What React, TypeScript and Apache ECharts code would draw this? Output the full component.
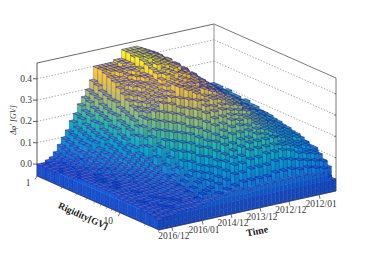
import React, { useEffect, useRef } from "react";
import * as echarts from "echarts";

// Time bins run from the front corner (2016/12) to the far corner (2012/01).
// Each row holds delta-phi in units of 0.01 GV, for rigidity bins from 1 GV upwards.
const deltaPhiHundredths: number[][] = [
  [0,0,0,0,0,1,1,1,1,2,2,2,2,2,2,2,2,2,1,1,1,1,1,0,0,0,-1],
  [0,1,0,0,1,1,1,1,2,2,2,2,3,2,2,3,2,2,2,2,1,2,1,1,1,0,0],
  [1,1,1,1,1,1,1,2,2,2,2,3,2,3,3,2,3,2,2,2,2,1,2,1,1,1,0],
  [2,2,1,2,1,2,2,2,2,2,3,2,3,3,2,3,3,2,3,2,2,2,2,1,2,1,0],
  [4,3,3,3,3,3,2,3,3,2,3,3,3,2,3,3,3,3,2,3,2,3,2,2,1,2,1],
  [7,6,5,5,4,5,4,4,3,4,3,3,4,3,3,3,3,3,3,3,3,2,3,2,2,1,1],
  [10,9,8,7,7,6,6,5,5,4,5,4,4,4,4,3,4,3,3,3,3,3,2,3,2,2,1],
  [13,12,11,10,10,8,8,7,7,6,6,5,5,4,5,4,4,4,3,4,3,3,3,2,3,2,1],
  [17,15,14,13,12,12,10,9,9,8,7,7,6,6,5,5,5,4,4,4,4,3,3,3,2,2,1],
  [20,19,17,16,15,14,14,12,11,10,9,9,8,7,6,6,5,5,4,5,4,4,3,3,3,2,1],
  [24,22,21,19,19,17,16,15,14,13,12,11,10,9,8,7,7,6,5,5,5,4,4,3,3,2,2],
  [27,26,24,23,22,21,19,19,17,16,14,14,12,11,10,9,8,7,7,6,5,5,4,4,3,3,2],
  [30,29,28,26,25,24,24,22,21,20,18,19,15,16,11,13,9,11,6,8,4,7,3,6,2,5,3],
  [34,33,31,30,29,29,27,26,25,24,22,23,18,20,14,17,11,14,9,11,6,9,4,8,3,6,3],
  [40,40,39,38,37,35,33,31,29,28,26,26,21,23,17,20,14,17,11,14,8,11,6,9,4,7,4],
  [40,39,40,38,37,36,34,33,31,29,28,24,26,20,23,16,20,13,17,10,14,8,11,6,9,4,5],
  [40,40,39,40,38,37,36,34,33,31,29,29,23,26,20,23,16,20,13,17,10,13,8,11,5,8,4],
  [40,40,40,39,39,37,37,36,34,32,30,26,29,23,26,19,23,16,20,13,16,10,13,7,10,5,6],
  [40,39,40,40,38,39,37,37,35,33,31,32,25,29,22,26,18,23,15,19,12,16,9,13,6,9,5],
  [41,41,40,40,40,38,39,37,36,34,33,28,32,24,29,21,25,18,22,14,19,11,15,8,12,5,7],
  [41,41,41,40,41,39,39,38,37,35,33,34,27,31,24,28,20,25,17,21,14,18,10,15,7,11,5],
  [45,45,44,45,44,43,42,41,39,37,35,31,34,27,31,23,28,20,24,16,21,13,17,9,14,6,8],
  [45,45,45,44,45,43,44,41,41,38,38,38,30,34,26,31,22,27,18,23,14,20,10,16,7,11,4],
  [45,44,45,45,43,44,42,42,40,39,37,33,37,28,34,24,30,20,26,16,22,12,18,9,14,6,8],
  [45,45,44,44,44,42,43,41,41,38,38,37,32,36,26,32,22,28,18,24,14,20,11,16,7,12,5],
  [44,44,44,43,43,43,41,42,39,39,36,32,36,30,33,24,30,20,26,17,23,13,19,9,15,6,8],
  [43,43,43,43,42,42,42,40,40,38,37,36,31,34,28,31,22,28,19,25,15,21,11,18,8,12,5],
  [42,42,42,41,42,40,41,39,39,36,37,31,36,27,33,23,30,20,27,17,23,14,20,10,15,6,8],
  [41,41,40,41,39,40,38,39,36,37,34,35,29,33,25,31,22,28,18,25,15,21,12,18,8,12,5],
  [39,39,39,38,39,37,38,36,37,34,34,30,34,26,32,23,29,20,26,17,23,14,20,10,16,6,9],
  [38,38,37,38,36,37,35,36,34,34,31,33,27,32,24,30,21,27,18,24,15,22,12,18,8,13,5],
  [36,36,36,35,36,34,35,33,34,31,32,27,32,25,30,22,28,19,26,16,23,14,20,11,16,6,9],
  [35,35,34,35,33,34,32,33,31,31,29,31,25,30,22,29,20,26,17,24,15,21,12,18,8,13,5],
  [33,33,33,32,33,31,32,30,31,28,29,25,30,22,28,20,27,18,24,16,22,13,20,10,16,6,9],
  [31,31,31,30,31,29,30,28,29,27,27,28,23,27,21,26,19,24,17,22,15,19,12,17,8,12,5],
  [29,29,29,29,28,29,27,28,26,27,24,22,27,20,25,18,24,16,22,14,20,12,17,9,15,6,8],
  [28,28,27,28,26,27,26,26,25,25,23,26,20,25,18,23,16,22,14,20,12,18,10,16,7,11,5],
  [26,26,26,25,26,24,25,23,24,22,23,19,24,17,23,15,21,13,20,12,18,10,16,8,13,5,8],
  [25,25,24,25,23,24,22,23,21,22,20,23,17,22,15,21,13,20,12,18,10,16,9,14,6,10,4],
  [23,23,23,22,23,21,22,20,21,19,20,16,21,14,20,12,19,11,18,10,16,9,14,7,12,4,7],
  [22,22,21,22,20,21,19,20,19,19,17,20,14,19,12,18,11,17,10,16,9,14,8,12,5,9,4],
  [21,21,21,20,21,19,20,18,19,17,18,14,19,12,18,11,17,10,16,9,15,8,13,6,11,4,6],
  [20,20,20,20,19,19,19,18,18,17,17,18,13,18,12,17,11,16,10,15,9,13,8,11,5,8,2],
  [20,20,19,20,19,19,18,19,18,18,17,17,16,16,15,15,14,14,13,13,12,11,11,9,7,5,0],
];
const zTicks = [0.0, 0.1, 0.2, 0.3, 0.4];
const timeTickLabels = ["2016/12", "2016/01", "2014/12", "2013/12", "2012/12", "2012/01"];
const timeTickBins = [3.2, 10.7, 17.9, 25.1, 32.3, 39.8];
const rigidityLabels = ["1", "10"];
const rigidityMajorBins = [0, 18.4];
const rigidityMinorBins = [5.5, 8.8, 11, 12.8, 14.2, 15.5, 16.6, 17.5, 24, 27];

const nT = deltaPhiHundredths.length;
const nR = deltaPhiHundredths[0].length;
const zMin = -0.056;
const zMax = 0.474;
const FONT = '"Liberation Serif", serif';

const palette = [
  [0.2082, 0.1664, 0.5293], [0.0592, 0.3599, 0.8684], [0.078, 0.5041, 0.8385],
  [0.0232, 0.6419, 0.7914], [0.1802, 0.7178, 0.6425], [0.5301, 0.7492, 0.4662],
  [0.8186, 0.7328, 0.3499], [0.9956, 0.7862, 0.1968], [0.9764, 0.9832, 0.0539],
];
const lineRgb = [0.08, 0.08, 0.6];
function colour(z: number, shade: number, dark = 0) {
  const u = Math.min(1, Math.max(0.1, (z + 0.06) / 0.51)) * 8;
  const i = Math.min(7, Math.floor(u));
  const f = u - i;
  const c = palette[i].map((v, k) => {
    const s = Math.min(1, (v + (palette[i + 1][k] - v) * f) * shade);
    return Math.round(255 * (s + (lineRgb[k] - s) * dark));
  });
  return `rgb(${c[0]},${c[1]},${c[2]})`;
}
const val = (t: number, r: number) => deltaPhiHundredths[t][r] / 100;

// The hidden grid scales time bins (x) and delta-phi (y); the shear gives the oblique box.
function proj(api: any, t: number, r: number, z: number): number[] {
  const p = api.coord([t, z]);
  return [p[0] + (r / nR) * 122, p[1] + (r / nR) * 54 - (t / nT) * 39];
}

const barData: number[][] = [];
for (let t = nT - 1; t >= 0; t--) for (let r = 0; r < nR; r++) barData.push([t, r, val(t, r)]);

const LINE = "#15159c";
const BAND = 0.025;
function faceBands(api: any, children: any[], a: number[], b: number[], lo: number, hi: number, shade: number) {
  if (hi <= lo) return;
  let z0 = lo;
  while (z0 < hi - 1e-6) {
    const z1 = Math.min(hi, (Math.floor((z0 + 1e-6) / BAND) + 1) * BAND);
    const top = Math.min(hi, z1 + 0.002);
    children.push({
      type: "polygon", silent: true,
      shape: { points: [proj(api, a[0], a[1], z0), proj(api, b[0], b[1], z0), proj(api, b[0], b[1], top), proj(api, a[0], a[1], top)] },
      style: { fill: colour((z0 + z1) / 2, shade) },
    });
    z0 = z1;
  }
  children.push({
    type: "polygon", silent: true,
    shape: { points: [proj(api, a[0], a[1], lo), proj(api, b[0], b[1], lo), proj(api, b[0], b[1], hi), proj(api, a[0], a[1], hi)] },
    style: { fill: "none", stroke: LINE, lineWidth: 0.4, opacity: 0.6 },
  });
}
function renderBar(_: any, api: any) {
  const t = api.value(0), r = api.value(1), z = api.value(2);
  const children: any[] = [];
  const loLeft = t > 0 ? val(t - 1, r) : zMin;
  const loRight = r < nR - 1 ? val(t, r + 1) : zMin;
  faceBands(api, children, [t, r], [t, r + 1], Math.max(zMin, loLeft), z, 1.0);
  faceBands(api, children, [t, r + 1], [t + 1, r + 1], Math.max(zMin, loRight), z, 0.9);
  children.push({
    type: "polygon", silent: true,
    shape: { points: [proj(api, t, r, z), proj(api, t, r + 1, z), proj(api, t + 1, r + 1, z), proj(api, t + 1, r, z)] },
    style: { fill: colour(z, 1, 0.3), stroke: LINE, lineWidth: 0.5, opacity: 0.85 },
  });
  return { type: "group", children };
}
function seg(a: number[], b: number[], stroke: string, lineWidth: number, dash?: number[]) {
  return {
    type: "line", silent: true,
    shape: { x1: a[0], y1: a[1], x2: b[0], y2: b[1] },
    style: { stroke, lineWidth, lineDash: dash },
  };
}
function text(s: string, x: number, y: number, align: string, extra: any = {}) {
  return {
    type: "text", silent: true, x, y, ...extra,
    style: { text: s, fill: extra.fill || "#3a3a3a", font: extra.font || `9.5px ${FONT}`, align, verticalAlign: "middle" },
  };
}
function renderBack(_: any, api: any) {
  const c: any[] = [];
  for (const z of zTicks) {
    if (z > 0) {
      const a = proj(api, 0, 0, z), b = proj(api, nT, 0, z), d = proj(api, nT, nR, z);
      c.push(seg(a, b, "#8a8a8a", 0.7, [1.5, 1.5]), seg(b, d, "#8a8a8a", 0.7, [1.5, 1.5]));
    }
  }
  c.push(seg(proj(api, 0, 0, zMax), proj(api, nT, 0, zMax), "#444", 0.8));
  c.push(seg(proj(api, nT, 0, zMax), proj(api, nT, nR, zMax), "#555", 0.8));
  c.push(seg(proj(api, nT, 0, zMax), proj(api, nT, 0, zMin), "#9a9a9a", 1.1));
  c.push(seg(proj(api, nT, nR, zMax), proj(api, nT, nR, zMin), "#555", 0.8));
  c.push(seg(proj(api, 0, 0, zMax), proj(api, 0, 0, zMin), "#333", 0.8));
  for (const z of zTicks) {
    const a = proj(api, 0, 0, z);
    c.push(seg([a[0] - 4, a[1]], a, "#333", 0.8));
    c.push(text(z.toFixed(1), a[0] - 5, a[1], "right"));
    const d = proj(api, nT, nR, z);
    c.push(seg([d[0] - 2, d[1]], d, "#555", 0.6));
  }
  return { type: "group", children: c };
}
function renderFront(_: any, api: any) {
  const c: any[] = [];
  c.push(seg(proj(api, 0, 0, zMin), proj(api, 0, nR, zMin), "#333", 0.7));
  c.push(seg(proj(api, 0, nR, zMin), proj(api, nT, nR, zMin), "#333", 0.7));
  timeTickBins.forEach((t, i) => {
    const a = proj(api, t, nR, zMin);
    c.push(seg(a, [a[0] + 1, a[1] + 4], "#333", 0.7));
    c.push(text(timeTickLabels[i], a[0] + 2, a[1] + 9, "center"));
  });
  rigidityMajorBins.forEach((r, i) => {
    const a = proj(api, 0, r, zMin);
    c.push(seg(a, [a[0] - 2, a[1] + 3.5], "#333", 0.7));
    c.push(text(rigidityLabels[i], a[0] + (i === 0 ? -9 : -12), a[1] + (i === 0 ? 7 : 8), "center"));
  });
  rigidityMinorBins.forEach((r) => {
    const a = proj(api, 0, r, zMin);
    c.push(seg(a, [a[0] - 1, a[1] + 2], "#444", 0.5));
  });
  c.push(text("Rigidity[GV]", 83, 216, "center", { rotation: -0.42, font: `bold 9.5px ${FONT}`, fill: "#222" }));
  c.push(text("Time", 257, 231, "center", { rotation: 0.2, font: `bold 10px ${FONT}`, fill: "#222" }));
  c.push(text("\u0394\u03c6' [GV]", 13, 120, "center", { rotation: Math.PI / 2, font: `italic 8px ${FONT}`, fill: "#333" }));
  return { type: "group", children: c };
}

export default function App() {
  const ref = useRef<HTMLDivElement>(null);
  useEffect(() => {
    const chart = echarts.init(ref.current!, undefined, { renderer: "svg" });
    const one = [[0, 0, 0]];
    chart.setOption({
      animation: false,
      backgroundColor: "#fff",
      grid: { left: 37, top: 63, width: 177, height: 113 },
      xAxis: { type: "value", min: 0, max: nT, show: false },
      yAxis: { type: "value", min: zMin, max: zMax, show: false },
      series: [
        { type: "custom", data: one, renderItem: renderBack, clip: false, silent: true, encode: { x: 0, y: 2 } },
        { type: "custom", data: barData, renderItem: renderBar, clip: false, silent: true, encode: { x: 0, y: 2 } },
        { type: "custom", data: one, renderItem: renderFront, clip: false, silent: true, encode: { x: 0, y: 2 } },
      ],
    });
    return () => chart.dispose();
  }, []);
  return <div ref={ref} style={{ position: "fixed", left: 0, top: 0, width: 374, height: 256 }} />;
}
